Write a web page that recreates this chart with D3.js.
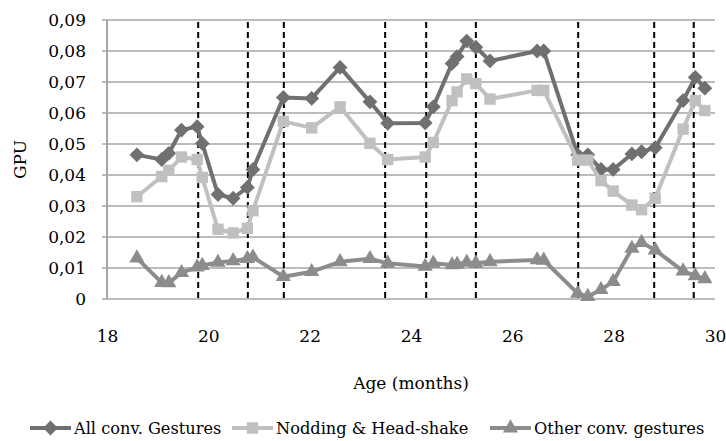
<!DOCTYPE html>
<html>
<head>
<meta charset="utf-8">
<script src="https://cdn.jsdelivr.net/npm/d3@7"></script>
<style>
body { margin: 0; background: #fff; }
svg text { font-family: 'DejaVu Serif', serif; }
</style>
</head>
<body>
<div id="chart"></div>
<script>
// age of each recording session (months)
var ages = [18.59, 19.08, 19.22, 19.47, 19.78, 19.88, 20.19, 20.49, 20.77, 20.88,
            21.48, 22.04, 22.60, 23.19, 23.54, 24.28, 24.44, 24.81, 24.91, 25.10,
            25.28, 25.56, 26.49, 26.62, 27.29, 27.49, 27.75, 27.99, 28.36, 28.55,
            28.82, 29.37, 29.61, 29.80];
var allGestures = [0.0465, 0.0450, 0.0470, 0.0545, 0.0556, 0.0502, 0.0337, 0.0325, 0.0360, 0.0418,
                   0.0650, 0.0647, 0.0747, 0.0636, 0.0567, 0.0568, 0.0620, 0.0760, 0.0782, 0.0832,
                   0.0812, 0.0768, 0.0800, 0.0800, 0.0465, 0.0465, 0.0418, 0.0418, 0.0468, 0.0475,
                   0.0488, 0.0640, 0.0715, 0.0680];
var nodding = [0.0330, 0.0395, 0.0415, 0.0458, 0.0450, 0.0392, 0.0225, 0.0213, 0.0228, 0.0285,
               0.0573, 0.0552, 0.0620, 0.0502, 0.0450, 0.0458, 0.0505, 0.0640, 0.0668, 0.0710,
               0.0695, 0.0645, 0.0673, 0.0673, 0.0448, 0.0448, 0.0382, 0.0348, 0.0303, 0.0288,
               0.0325, 0.0548, 0.0640, 0.0608];
var otherGestures = [0.0132, 0.0053, 0.0052, 0.0085, 0.0103, 0.0108, 0.0118, 0.0123, 0.0130, 0.0135,
                     0.0072, 0.0088, 0.0120, 0.0130, 0.0115, 0.0105, 0.0115, 0.0110, 0.0112, 0.0118,
                     0.0115, 0.0120, 0.0126, 0.0125, 0.0018, 0.0008, 0.0030, 0.0056, 0.0163, 0.0182,
                     0.0158, 0.0090, 0.0075, 0.0065];
var sessionLines = [19.80, 20.78, 21.49, 23.49, 24.30, 25.28, 27.30, 28.80, 29.58];
var xTicks = [18, 20, 22, 24, 26, 28, 30];
var yTicks = [0, 0.01, 0.02, 0.03, 0.04, 0.05, 0.06, 0.07, 0.08, 0.09];
var seriesNames = ["All conv. Gestures", "Nodding & Head-shake", "Other conv. gestures"];

var W = 726, H = 441;
var margin = {top: 20, right: 11, bottom: 142, left: 107};
var width = W - margin.left - margin.right;
var height = H - margin.top - margin.bottom;

var x = d3.scaleLinear().domain([18, 30]).range([0, width]);
var y = d3.scaleLinear().domain([0, 0.09]).range([height, 0]);

var root = d3.select("#chart").append("svg")
    .attr("width", W)
    .attr("height", H);
var svg = root.append("g")
    .attr("transform", "translate(" + margin.left + "," + margin.top + ")");

var fmt = function(d) { return d === 0 ? "0" : d3.format(".2f")(d).replace(".", ","); };

// gridlines
svg.append("g").selectAll("line")
    .data(yTicks)
    .enter().append("line")
    .attr("x1", -5).attr("x2", width)
    .attr("y1", function(d) { return y(d); })
    .attr("y2", function(d) { return y(d); })
    .attr("stroke", "#a6a6a6")
    .attr("stroke-width", 1.5);

svg.append("line")
    .attr("x1", 0).attr("x2", 0)
    .attr("y1", 0).attr("y2", height)
    .attr("stroke", "#a6a6a6")
    .attr("stroke-width", 2);

var yAxis = d3.axisLeft(y).tickValues(yTicks).tickFormat(fmt).tickSize(0).tickPadding(21);
svg.append("g").call(yAxis)
    .attr("font-family", null)
    .attr("font-size", 17)
    .call(function(g) { g.select(".domain").remove(); })
    .selectAll("text")
    .attr("fill", "#000");

var xAxis = d3.axisBottom(x).tickValues(xTicks).tickSize(0).tickPadding(31);
svg.append("g")
    .attr("transform", "translate(0," + height + ")")
    .call(xAxis)
    .attr("font-family", null)
    .attr("font-size", 17)
    .call(function(g) { g.select(".domain").remove(); })
    .selectAll("text")
    .attr("fill", "#000");

// session boundaries
svg.append("g").selectAll("line")
    .data(sessionLines)
    .enter().append("line")
    .attr("x1", function(d) { return x(d); })
    .attr("x2", function(d) { return x(d); })
    .attr("y1", 2).attr("y2", height)
    .attr("stroke", "#000")
    .attr("stroke-width", 2)
    .attr("stroke-dasharray", "6,4");

var series = [
    {name: seriesNames[0], values: allGestures, color: "#707070", symbol: "diamond"},
    {name: seriesNames[1], values: nodding, color: "#c0c0c0", symbol: "square"},
    {name: seriesNames[2], values: otherGestures, color: "#8c8c8c", symbol: "triangle"}
];

function markerPath(s) {
    if (s.symbol === "diamond") return d3.symbol().type(d3.symbolSquare).size(110)();
    if (s.symbol === "square") return d3.symbol().type(d3.symbolSquare).size(130)();
    return d3.symbol().type(d3.symbolTriangle).size(100)();
}
var rot = function(s) { return s.symbol === "diamond" ? " rotate(45)" : ""; };

var line = d3.line()
    .x(function(d, i) { return x(ages[i]); })
    .y(function(d) { return y(d); });

series.forEach(function(s) {
    svg.append("path")
        .datum(s.values)
        .attr("fill", "none")
        .attr("stroke", s.color)
        .attr("stroke-width", 4)
        .attr("stroke-linejoin", "round")
        .attr("d", line);
    svg.append("g").selectAll("path")
        .data(s.values)
        .enter().append("path")
        .attr("transform", function(d, i) { return "translate(" + x(ages[i]) + "," + y(d) + ")" + rot(s); })
        .attr("fill", s.color)
        .attr("d", markerPath(s));
});

svg.append("text")
    .attr("transform", "rotate(-90)")
    .attr("x", -height / 2)
    .attr("y", -81)
    .attr("text-anchor", "middle")
    .attr("font-size", 17)
    .text("GPU");

svg.append("text")
    .attr("x", width / 2)
    .attr("y", height + 90)
    .attr("text-anchor", "middle")
    .attr("font-size", 17)
    .text("Age (months)");

// legend
var legendX = [30, 232, 490];
var legend = root.append("g").attr("transform", "translate(0,428)");
series.forEach(function(s, i) {
    var g = legend.append("g").attr("transform", "translate(" + legendX[i] + ",0)");
    g.append("line")
        .attr("x1", 0).attr("x2", 41).attr("y1", 0).attr("y2", 0)
        .attr("stroke", s.color).attr("stroke-width", 4);
    g.append("path")
        .attr("transform", "translate(20.5,0)" + rot(s))
        .attr("fill", s.color)
        .attr("d", markerPath(s));
    g.append("text")
        .attr("x", 44).attr("y", 6)
        .attr("font-size", 16.2)
        .text(s.name);
});
</script>
</body>
</html>
